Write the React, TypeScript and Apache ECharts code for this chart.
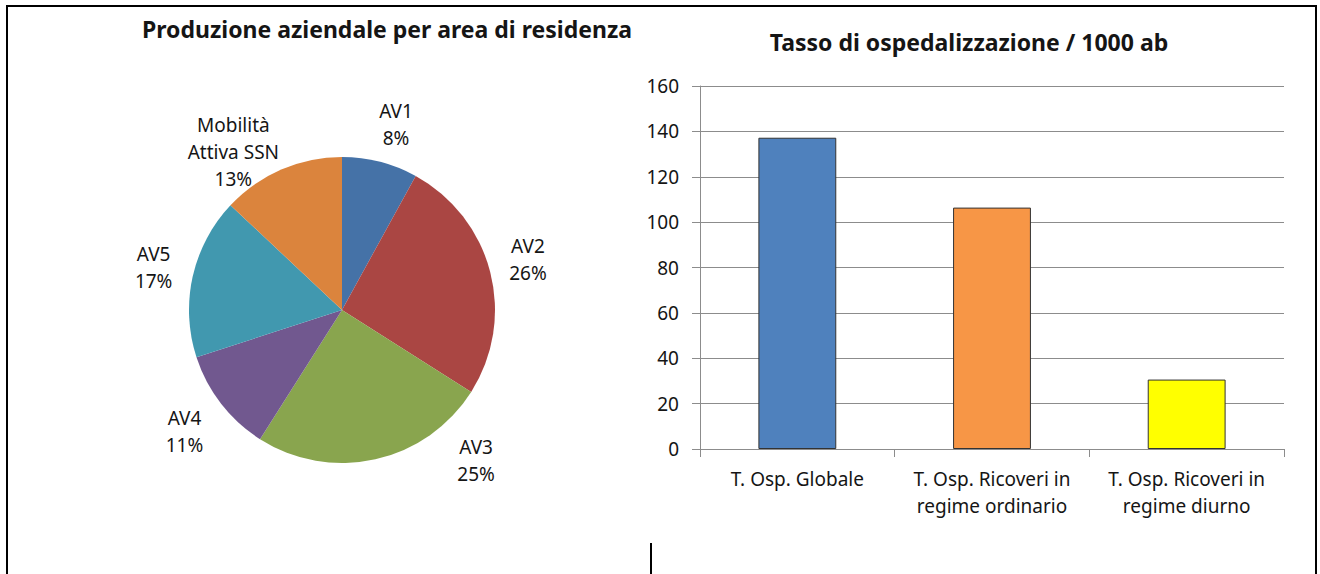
import React, { useEffect, useRef } from "react";
import * as echarts from "echarts";

// ---- Data ----
const pieCategories = ["AV1", "AV2", "AV3", "AV4", "AV5", "Mobilità\nAttiva SSN"];
const pieValues = [8, 26, 25, 11, 17, 13];
const pieColors = ["#4572A7", "#AA4643", "#89A54E", "#71588F", "#4198AF", "#DB843D"];

const barCategories = [
  "T. Osp. Globale",
  "T. Osp. Ricoveri in\nregime ordinario",
  "T. Osp. Ricoveri in\nregime diurno",
];
const barValues = [137.2, 106.4, 30.6];
const barColors = ["#4F81BD", "#F79646", "#FFFF00"];

const yMin = 0;
const yMax = 160;
const yStep = 20;

const pieTitle = "Produzione aziendale per area di residenza";
const barTitle = "Tasso di ospedalizzazione / 1000 ab";

const FONT = "'Noto Sans', 'DejaVu Sans', sans-serif";
const TEXT = "#151515";
const GRID = "#8c8c8c";

// label nudges (Excel-like placement of pie labels)
const labelNudges: [number, number][] = [
  [6, 1],
  [-1, -3],
  [92, -38],
  [-5, 3],
  [0, 0],
  [-32, 19],
];

export default function App() {
  const ref = useRef<HTMLDivElement>(null);

  useEffect(() => {
    document.body.style.margin = "0";
    if (!ref.current) return;
    const chart = echarts.init(ref.current, null, { renderer: "svg" });

    const pieData = pieCategories.map((name, i) => ({
      name,
      value: pieValues[i],
      itemStyle: { color: pieColors[i] },
    }));

    const option: any = {
      animation: false,
      backgroundColor: "#ffffff",
      textStyle: { fontFamily: FONT },
      graphic: [
        {
          type: "text",
          x: 387,
          y: 29,
          style: {
            text: pieTitle,
            align: "center",
            verticalAlign: "middle",
            fontFamily: FONT,
            fontWeight: "bold",
            fontSize: 23,
            fill: TEXT,
          },
        },
        {
          type: "text",
          x: 969,
          y: 42,
          style: {
            text: barTitle,
            align: "center",
            verticalAlign: "middle",
            fontFamily: FONT,
            fontWeight: "bold",
            fontSize: 23,
            fill: TEXT,
          },
        },
        { type: "line", shape: { x1: 6, y1: 6, x2: 1317, y2: 6 }, style: { stroke: "#000", lineWidth: 2 } },
        { type: "line", shape: { x1: 7, y1: 6, x2: 7, y2: 574 }, style: { stroke: "#000", lineWidth: 2 } },
        { type: "line", shape: { x1: 1316, y1: 6, x2: 1316, y2: 574 }, style: { stroke: "#000", lineWidth: 2 } },
        { type: "line", shape: { x1: 651, y1: 543, x2: 651, y2: 574 }, style: { stroke: "#000", lineWidth: 2 } },
      ],
      grid: { left: 700, right: 36, top: 86, bottom: 125, containLabel: false },
      xAxis: {
        type: "category",
        data: barCategories,
        axisLine: { show: true, lineStyle: { color: GRID, width: 1 } },
        axisTick: { show: true, length: 8, lineStyle: { color: GRID } },
        axisLabel: {
          interval: 0,
          fontFamily: FONT,
          fontSize: 19,
          lineHeight: 27,
          color: TEXT,
          margin: 16,
        },
        splitLine: { show: false },
      },
      yAxis: {
        type: "value",
        min: yMin,
        max: yMax,
        interval: yStep,
        axisLine: { show: true, lineStyle: { color: GRID, width: 1 } },
        axisTick: { show: true, length: 8, lineStyle: { color: GRID } },
        axisLabel: { fontFamily: FONT, fontSize: 19, color: TEXT, margin: 21 },
        splitLine: { show: true, lineStyle: { color: GRID, width: 1 } },
      },
      series: [
        {
          type: "bar",
          data: barValues.map((v, i) => ({
            value: v,
            itemStyle: { color: barColors[i], borderColor: "#333333", borderWidth: 1 },
          })),
          barWidth: "40%",
          silent: true,
        },
        {
          type: "pie",
          center: [342, 310],
          radius: 153,
          startAngle: 90,
          clockwise: true,
          data: pieData,
          label: { show: false },
          labelLine: { show: false },
          silent: true,
        },
        {
          type: "pie",
          center: [342, 310],
          radius: [153, 227],
          startAngle: 90,
          clockwise: true,
          silent: true,
          z: 5,
          data: pieCategories.map((name, i) => ({ name, value: pieValues[i] })),
          itemStyle: { color: "rgba(0,0,0,0)" },
          label: {
            show: true,
            position: "inside",
            formatter: (p: any) => `${p.name}\n${Math.round(p.percent)}%`,
            fontFamily: FONT,
            fontSize: 19,
            lineHeight: 27,
            color: TEXT,
            align: "center",
          },
          labelLine: { show: false },
          labelLayout: (p: any) => {
            const n = labelNudges[p.dataIndex] || [0, 0];
            return {
              x: p.labelRect.x + p.labelRect.width / 2 + n[0],
              y: p.labelRect.y + p.labelRect.height / 2 + n[1],
              align: "center",
              verticalAlign: "middle",
            };
          },
        },
      ],
    };

    chart.setOption(option);
    return () => chart.dispose();
  }, []);

  return <div ref={ref} style={{ width: 1320, height: 574 }} />;
}
